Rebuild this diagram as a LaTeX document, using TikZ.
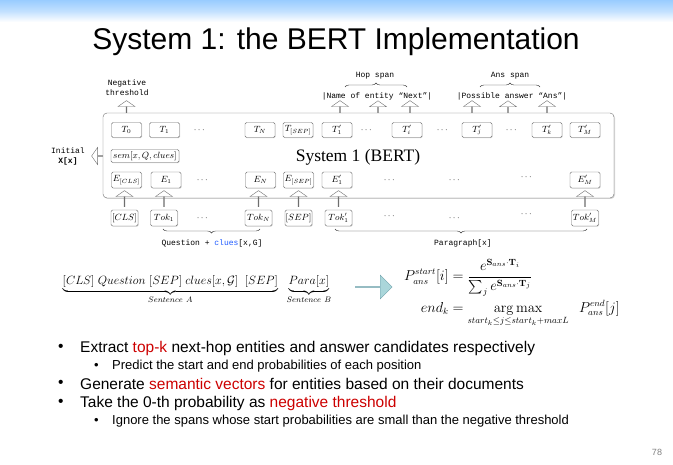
\documentclass[tikz,border=0pt]{standalone}
\usepackage{amsmath,amssymb}
\usepackage[no-math]{fontspec}
\setmainfont{Liberation Sans}
\setmonofont{Liberation Mono}
\newfontfamily\bertfont{Liberation Serif}
\usetikzlibrary{arrows.meta,positioning,calc}
\usetikzlibrary{shapes.arrows,shadows,decorations.pathreplacing}
\definecolor{topband}{RGB}{153,204,255}
\definecolor{hlred}{RGB}{204,0,0}
\definecolor{cluesblue}{RGB}{30,90,255}
\definecolor{arrfill}{RGB}{170,214,218}
\definecolor{arrline}{RGB}{110,160,170}
\definecolor{boxline}{RGB}{110,110,110}

\begin{document}
\begin{tikzpicture}[x=1pt,y=-1pt,
tok/.style={draw=boxline,fill=white,rounded corners=1.5pt,minimum width=30pt,
  minimum height=15pt,inner sep=0pt,font=\fontsize{9}{10}\selectfont,
  drop shadow={shadow xshift=.7pt,shadow yshift=-.7pt,opacity=.3}},
dots/.style={inner sep=0pt,font=\fontsize{9}{10}\selectfont},
uparr/.style={single arrow,draw=boxline,fill=white,shape border rotate=90,
  minimum width=17pt,single arrow head extend=4.5pt,single arrow tip angle=110,
  inner sep=0pt,minimum height=12pt,anchor=tail},
lbl/.style={inner sep=0pt,font=\fontsize{8}{10}\selectfont\ttfamily,align=center},
itm/.style={anchor=west,inner sep=0pt,font=\fontsize{15.5}{17}\selectfont},
subitm/.style={anchor=west,inner sep=0pt,font=\fontsize{13}{15}\selectfont},
brc/.style={decorate,decoration={brace,amplitude=4pt},draw=black!80,thin}]
\useasboundingbox (0,0) rectangle (673,465);
\shade[top color=topband,bottom color=white,middle color=topband!60] (0,0) rectangle (673,22);

% title
\node[font=\fontsize{30}{34}\selectfont] (title) at (336,42) {System 1: the BERT Implementation};

% the BERT box
\node[draw=boxline,fill=white,rounded corners=4pt,minimum width=511pt,minimum height=85pt,
  drop shadow={shadow xshift=1pt,shadow yshift=-1pt,opacity=.3}] (bert) at (358.5,155.5) {};
\node[font=\bertfont\fontsize{17.5}{20}\selectfont] (bname) at (358,157) {System 1 (BERT)};

% output row
\node[tok] (T0) at (126.5,130) {$T_0$};
\node[tok] (T1) at (164.5,130) {$T_1$};
\node[dots] (dT1) at (200,130) {$\cdots$};
\node[tok] (TN) at (260,130) {$T_N$};
\node[tok] (TS) at (298,130) {$T_{[SEP]}$};
\node[tok] (Tp1) at (337,130) {$T'_1$};
\node[dots] (dT2) at (367,130) {$\cdots$};
\node[tok] (Tpi) at (407,130) {$T'_i$};
\node[dots] (dT3) at (443,130) {$\cdots$};
\node[tok] (Tpj) at (477,130) {$T'_j$};
\node[dots] (dT4) at (512,130) {$\cdots$};
\node[tok] (Tpk) at (547,130) {$T'_k$};
\node[tok] (TpM) at (585,130) {$T'_M$};

\node[tok,minimum width=68pt,minimum height=13pt] (sem) at (145,156) {$sem[x,Q,clues]$};

% embedding row
\node[tok,minimum height=16pt] (ECLS) at (126.5,180) {$E_{[CLS]}$};
\node[tok,minimum height=16pt] (E1) at (166,180) {$E_1$};
\node[dots] (dE1) at (203,180) {$\cdots$};
\node[tok,minimum height=16pt] (EN) at (260.5,180) {$E_N$};
\node[tok,minimum height=16pt] (ES) at (298.5,180) {$E_{[SEP]}$};
\node[tok,minimum height=16pt] (Ep1) at (337,180) {$E'_1$};
\node[dots] (dE2) at (390,180) {$\cdots$};
\node[dots] (dE3) at (455,180) {$\cdots$};
\node[dots] (dE4) at (527,177) {$\cdots$};
\node[tok,minimum height=16pt] (EpM) at (585,180) {$E'_M$};

% token row
\node[tok,minimum width=27pt,minimum height=16pt] (CLS) at (124.5,218) {$[CLS]$};
\node[tok,minimum width=27pt,minimum height=16pt] (Tok1) at (164,218) {$Tok_1$};
\node[dots] (dK1) at (203,218) {$\cdots$};
\node[tok,minimum width=27pt,minimum height=16pt] (TokN) at (258.5,218) {$Tok_N$};
\node[tok,minimum width=27pt,minimum height=16pt] (SEP) at (298.5,218) {$[SEP]$};
\node[tok,minimum width=27pt,minimum height=16pt] (Tokp1) at (338.5,218) {$Tok'_1$};
\node[dots] (dK2) at (390,216) {$\cdots$};
\node[dots] (dK3) at (455,218) {$\cdots$};
\node[dots] (dK4) at (527,214) {$\cdots$};
\node[tok,minimum width=27pt,minimum height=16pt] (TokpM) at (585,218) {$Tok'_M$};

% arrows into the box
\foreach \a/\b in {CLS/ECLS,Tok1/E1,TokN/EN,SEP/ES,Tokp1/Ep1,TokpM/EpM}
  \node[uparr,minimum height=16pt] (u\a) at ([yshift=3pt]\a.north) {};

% arrows out of the box
\node[uparr] (oT0) at (T0 |- bert.north) {};
\node[uparr] (oh1) at ([xshift=3pt]Tp1 |- bert.north) {};
\node[uparr] (oh2) at (378,113) {};
\node[uparr] (oh3) at ([xshift=3pt]Tpi |- bert.north) {};
\node[uparr] (oa1) at ([xshift=-5pt]Tpj |- bert.north) {};
\node[uparr] (oa2) at (508,113) {};
\node[uparr] (oa3) at (Tpk |- bert.north) {};
\node[uparr,shape border rotate=180,minimum height=11pt] (oSem) at (bert.west |- sem) {};

% labels
\node[lbl] (negthr) at (127,88) {Negative\\threshold};
\node[lbl] (init) at (68,156) {Initial\\\textbf{X[x]}};
\node[lbl] (hop) at (377,96) {|Name of entity “Next”|};
\node[lbl] (ans) at (512,96) {|Possible answer “Ans”|};
\node[lbl] (hopspan) at (375,76) {Hop span};
\node[lbl] (ansspan) at (510,76) {Ans span};
\coordinate (hopL) at (345,87); \coordinate (hopR) at (407,87);
\coordinate (ansL) at (480,87); \coordinate (ansR) at (540,87);
\draw[brc] (hopL) -- (hopR);
\draw[brc] (ansL) -- (ansR);

\node[lbl] (quest) at (212,243) {Question + \textcolor{cluesblue}{clues}[x,G]};
\node[lbl] (para) at (463,243) {Paragraph[x]};
\coordinate (qL) at (163,229); \coordinate (qR) at (260,229);
\coordinate (pL) at (335,229); \coordinate (pR) at (587,229);
\draw[brc,decoration={mirror}] (qL) -- (qR);
\draw[brc,decoration={mirror}] (pL) -- (pR);

% input and output formulas
\node[inner sep=0pt,font=\fontsize{12}{14}\selectfont] (sent) at (197,290)
  {$\underbrace{[CLS]\ Question\ [SEP]\ clues[x,\mathcal{G}]\ \ [SEP]}_{Sentence\ A}\ \ \underbrace{Para[x]}_{Sentence\ B}$};
\node[single arrow,draw=arrline,fill=arrfill,minimum height=37pt,minimum width=24pt,
  single arrow head extend=5.5pt,inner sep=0pt] (toeq) at (373.5,287) {};
\node[anchor=west,inner sep=0pt,font=\fontsize{13.5}{16}\selectfont] (eqs) at (404,293)
  {$\begin{aligned}
  P_{ans}^{start}[i] &= \frac{e^{\mathbf{S}_{ans}\cdot\mathbf{T}_i}}{\sum_j e^{\mathbf{S}_{ans}\cdot\mathbf{T}_j}}\\
  end_k &= \operatorname*{arg\,max}_{start_k\le j\le start_k+maxL}\;\; P_{ans}^{end}[j]
  \end{aligned}$};

% bullets
\node[itm] (d1) at (58,348) {\textbullet};
\node[itm] (i1) at (80,348) {Extract \textcolor{hlred}{top-k} next-hop entities and answer candidates respectively};
\node[subitm] (d2) at (94,366) {\textbullet};
\node[subitm] (i2) at (112,366) {Predict the start and end probabilities of each position};
\node[itm] (d3) at (58,384) {\textbullet};
\node[itm] (i3) at (80,384) {Generate \textcolor{hlred}{semantic vectors} for entities based on their documents};
\node[itm] (d4) at (58,403) {\textbullet};
\node[itm] (i4) at (80,403) {Take the 0-th probability as \textcolor{hlred}{negative threshold}};
\node[subitm] (d5) at (94,421) {\textbullet};
\node[subitm] (i5) at (112,421) {Ignore the spans whose start probabilities are small than the negative threshold};

\node[font=\fontsize{9}{10}\selectfont,text=gray] (pg) at (657,452) {78};
\end{tikzpicture}
\end{document}
